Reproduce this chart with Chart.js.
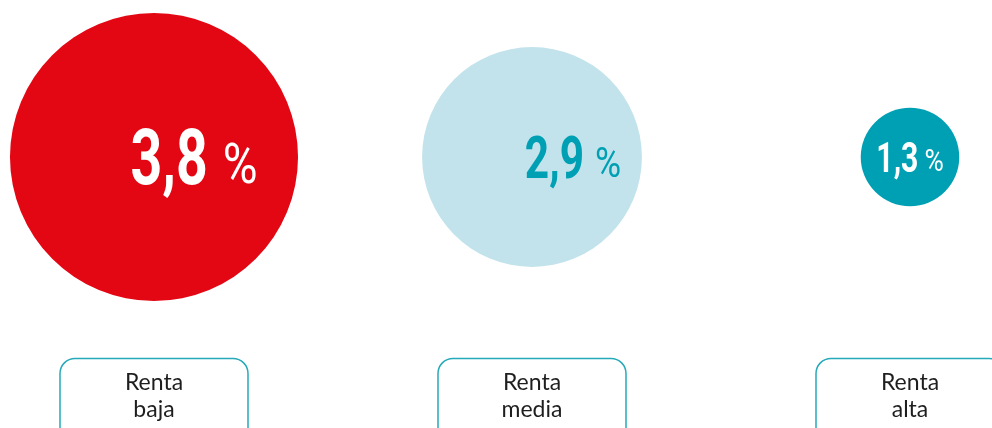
<!DOCTYPE html>
<html lang="es">
<head>
<meta charset="utf-8">
<title>Renta</title>
<script src="https://cdn.jsdelivr.net/npm/chart.js@4"></script>
<style>
  html, body { margin: 0; padding: 0; background: #ffffff; }
  #wrap { width: 992px; height: 428px; position: relative; }
</style>
</head>
<body>
<div id="wrap"><canvas id="chart"></canvas></div>
<script>
  // data
  const categories = [['Renta', 'baja'], ['Renta', 'media'], ['Renta', 'alta']];
  const values = [3.8, 2.9, 1.3];

  // styles
  const bubbleColors = ['#E30613', '#C2E3EB', '#00A0B4'];
  const valueColors = ['#FFFFFF', '#00A0B4', '#FFFFFF'];
  const digitSizes = [77, 59, 42];
  const pctSizes = [56, 42, 31];
  const pctGaps = [15, 11, 6];
  const labelShift = [40, 41, 0];
  const pxPerUnit = 37.9;   // bubble radius per percentage point
  const step = 378;         // distance between categories
  const firstX = 154;

  function formatValue(v) {
    return v.toFixed(1).replace('.', ',');
  }

  const valueLabels = {
    id: 'valueLabels',
    afterDatasetsDraw(chart) {
      const ctx = chart.ctx;
      const meta = chart.getDatasetMeta(0);
      meta.data.forEach(function (el, i) {
        const digits = formatValue(values[i]);
        const sx = 0.72;
        ctx.save();
        ctx.fillStyle = valueColors[i];
        ctx.font = '700 ' + digitSizes[i] + 'px Roboto';
        const dW = ctx.measureText(digits).width * sx;
        ctx.font = '400 ' + pctSizes[i] + 'px Roboto';
        const pW = ctx.measureText('%').width * 0.85;
        const total = dW + pctGaps[i] + pW;
        let x = el.x + labelShift[i] - total / 2;
        const capD = digitSizes[i] * 0.711 / 2;
        ctx.textBaseline = 'alphabetic';
        ctx.save();
        ctx.translate(x, el.y + capD);
        ctx.scale(sx, 1);
        ctx.font = '700 ' + digitSizes[i] + 'px Roboto';
        ctx.fillText(digits, 0, 0);
        ctx.restore();
        x += dW + pctGaps[i];
        ctx.save();
        ctx.translate(x, el.y + capD - 1);
        ctx.scale(0.85, 1);
        ctx.font = '400 ' + pctSizes[i] + 'px Roboto';
        ctx.fillText('%', 0, 0);
        ctx.restore();
        ctx.restore();
      });
    }
  };

  const categoryBoxes = {
    id: 'categoryBoxes',
    afterDraw(chart) {
      const ctx = chart.ctx;
      const xs = chart.scales.x;
      categories.forEach(function (lines, i) {
        const cx = xs.getPixelForValue(i);
        ctx.save();
        ctx.strokeStyle = '#26A9B9';
        ctx.lineWidth = 1.5;
        ctx.beginPath();
        ctx.roundRect(cx - 94, 358.5, 188, 90, 15);
        ctx.stroke();
        ctx.fillStyle = '#1e1e1e';
        ctx.font = '400 23px Lato';
        ctx.textAlign = 'center';
        ctx.textBaseline = 'alphabetic';
        lines.forEach(function (line, j) {
          ctx.fillText(line, cx, 390 + j * 27);
        });
        ctx.restore();
      });
    }
  };

  new Chart(document.getElementById('chart'), {
    type: 'bubble',
    data: {
      datasets: [{
        data: values.map(function (v, i) { return { x: i, y: 0, r: v * pxPerUnit }; }),
        backgroundColor: bubbleColors,
        hoverBackgroundColor: bubbleColors,
        borderWidth: 0,
        hoverBorderWidth: 0,
        clip: false
      }]
    },
    options: {
      responsive: true,
      maintainAspectRatio: false,
      animation: false,
      events: [],
      layout: { autoPadding: false, padding: { top: 0, left: 0, right: 0, bottom: 114 } },
      plugins: {
        legend: { display: false },
        tooltip: { enabled: false }
      },
      scales: {
        x: { type: 'linear', display: false, min: -firstX / step, max: (992 - firstX) / step },
        y: { type: 'linear', display: false, min: -1, max: 1 }
      }
    },
    plugins: [valueLabels, categoryBoxes]
  });
</script>
</body>
</html>
